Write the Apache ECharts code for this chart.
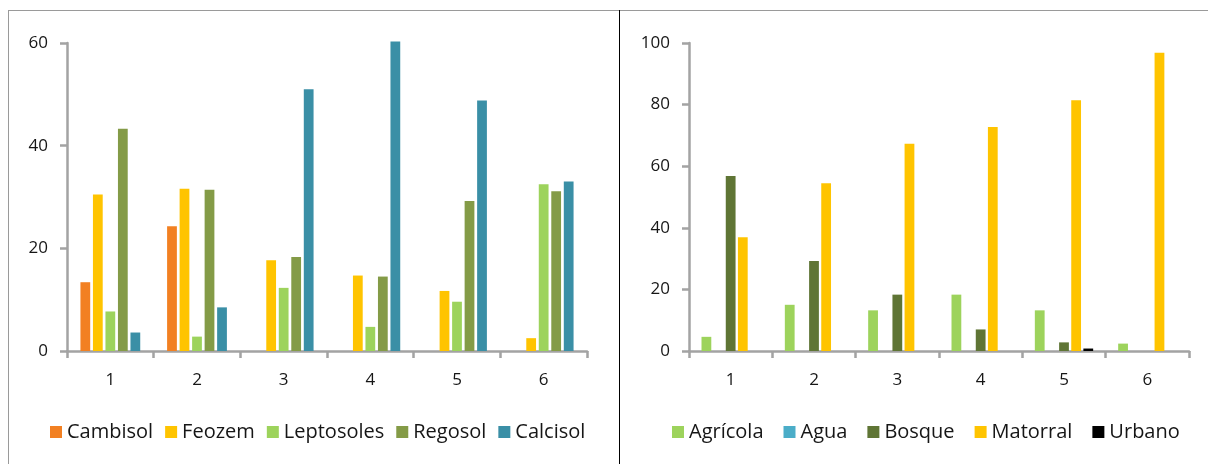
<!DOCTYPE html>
<html>
<head>
<meta charset="utf-8">
<script src="https://cdn.jsdelivr.net/npm/echarts@6/dist/echarts.min.js"></script>
<style>
html,body{margin:0;padding:0;background:#fff;}
#c{width:1208px;height:464px;}
</style>
</head>
<body>
<div id="c"></div>
<script>
// ---- data ----
var categories = ['1', '2', '3', '4', '5', '6'];

var soilNames = ['Cambisol', 'Feozem', 'Leptosoles', 'Regosol', 'Calcisol'];
var cambisol   = [13.4, 24.3, 0, 0, 0, 0];
var feozem     = [30.5, 31.6, 17.7, 14.7, 11.7, 2.5];
var leptosoles = [7.7, 2.8, 12.3, 4.7, 9.6, 32.5];
var regosol    = [43.3, 31.4, 18.3, 14.5, 29.2, 31.1];
var calcisol   = [3.6, 8.5, 51.0, 60.3, 48.8, 33.0];

var landNames = ['Agrícola', 'Agua', 'Bosque', 'Matorral', 'Urbano'];
var agricola = [4.6, 15.0, 13.2, 18.3, 13.2, 2.4];
var agua     = [0, 0, 0, 0, 0, 0];
var bosque   = [56.8, 29.2, 18.3, 7.0, 2.8, 0];
var matorral = [36.9, 54.5, 67.3, 72.7, 81.4, 96.8];
var urbano   = [0, 0, 0, 0, 0.8, 0];

// ---- styles ----
var soilColors = ['#F28022', '#FFC400', '#9DD35C', '#849B47', '#3A8FA6'];
var landColors = ['#9DD35C', '#4BADC8', '#5F7535', '#FFC400', '#000000'];
var FONT = '"Open Sans", "Liberation Sans", sans-serif';
var AXIS_COLOR = '#A3A3A3';
var TEXT_COLOR = '#161616';

function xAxis(gridIndex) {
  return {
    type: 'category', gridIndex: gridIndex, data: categories,
    axisLine: { show: true, lineStyle: { color: AXIS_COLOR, width: 2.5 } },
    axisTick: { show: true, length: 7, lineStyle: { color: AXIS_COLOR, width: 2.5 } },
    axisLabel: { color: TEXT_COLOR, fontSize: 17, fontFamily: FONT, margin: 21 },
    splitLine: { show: false }
  };
}
function yAxis(gridIndex, max) {
  return {
    type: 'value', gridIndex: gridIndex, min: 0, max: max, interval: 20,
    axisLine: { show: true, lineStyle: { color: AXIS_COLOR, width: 2.5 } },
    axisTick: { show: true, length: 7, lineStyle: { color: AXIS_COLOR, width: 2.5 } },
    axisLabel: { color: TEXT_COLOR, fontSize: 17, fontFamily: FONT, margin: 19 },
    splitLine: { show: false }
  };
}
function barSeries(name, data, color, idx, catGap, gap) {
  return {
    type: 'bar', name: name, data: data,
    xAxisIndex: idx, yAxisIndex: idx,
    barCategoryGap: catGap, barGap: gap,
    clip: false,
    itemStyle: { color: color, borderWidth: 0 },
    emphasis: { disabled: true }
  };
}

var soilData = [cambisol, feozem, leptosoles, regosol, calcisol];
var landData = [agricola, agua, bosque, matorral, urbano];
var series = [];
soilNames.forEach(function (n, i) { series.push(barSeries(n, soilData[i], soilColors[i], 0, '31%', '28%')); });
landNames.forEach(function (n, i) { series.push(barSeries(n, landData[i], landColors[i], 1, '30%', '24%')); });

var chart = echarts.init(document.getElementById('c'), null, { renderer: 'canvas' });
chart.setOption({
  backgroundColor: '#ffffff',
  animation: false,
  grid: [
    { left: 67, top: 43, width: 520, height: 308, containLabel: false },
    { left: 689, top: 43, width: 500, height: 308, containLabel: false }
  ],
  xAxis: [xAxis(0), xAxis(1)],
  yAxis: [yAxis(0, 60), yAxis(1, 100)],
  legend: [
    {
      data: soilNames, left: 45, top: 417, padding: 5, icon: 'rect', itemWidth: 12, itemHeight: 12,
      itemGap: 12, textStyle: { color: TEXT_COLOR, fontSize: 20, fontFamily: FONT },
      selectedMode: false
    },
    {
      data: landNames, left: 667, top: 417, padding: 5, icon: 'rect', itemWidth: 12, itemHeight: 12,
      itemGap: 20, textStyle: { color: TEXT_COLOR, fontSize: 20, fontFamily: FONT },
      selectedMode: false
    }
  ],
  graphic: [
    { type: 'line', shape: { x1: 8, y1: 10.5, x2: 1208, y2: 10.5 }, style: { stroke: '#9A9A9A', lineWidth: 1 }, silent: true },
    { type: 'line', shape: { x1: 8.5, y1: 10, x2: 8.5, y2: 464 }, style: { stroke: '#9A9A9A', lineWidth: 1 }, silent: true },
    { type: 'line', shape: { x1: 619.5, y1: 10, x2: 619.5, y2: 464 }, style: { stroke: '#000000', lineWidth: 1 }, silent: true }
  ],
  series: series
});
</script>
</body>
</html>
